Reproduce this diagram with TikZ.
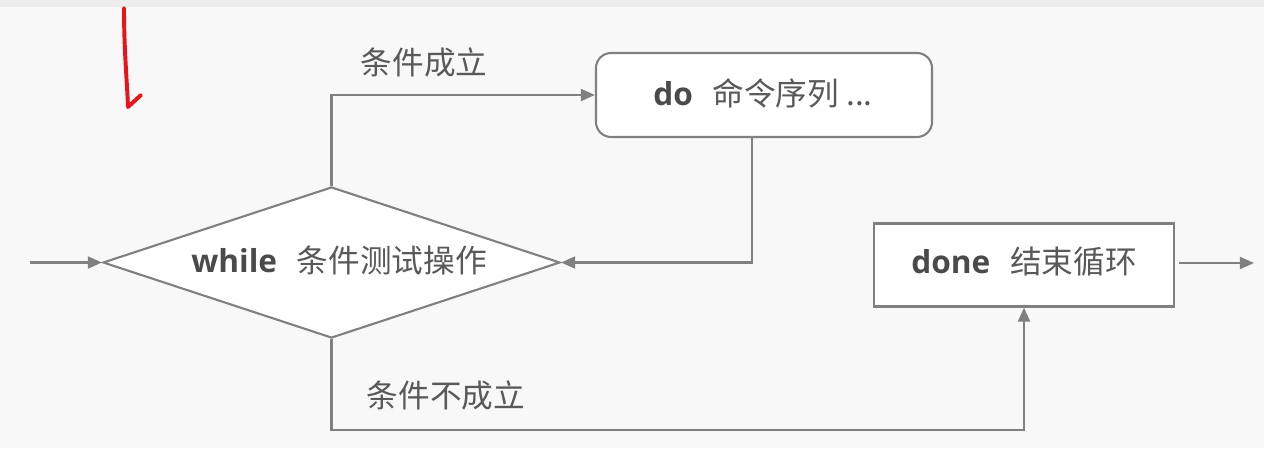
\documentclass[tikz,border=0pt]{standalone}
\usepackage{fontspec}
\setmainfont{Noto Sans CJK SC}
\newfontfamily\latb{Open Sans}
\usetikzlibrary{arrows.meta,shapes.geometric,calc}
\definecolor{bgcol}{HTML}{F8F8F8}
\definecolor{topcol}{HTML}{EDEDED}
\definecolor{linecol}{HTML}{808080}
\definecolor{txtcol}{HTML}{595959}
\definecolor{boldcol}{HTML}{4A4A4A}
\definecolor{pen}{HTML}{E8141A}
\tikzset{
  conn/.style={draw=linecol, line width=1.5pt, -{Triangle[length=10pt,width=8.5pt]}},
  boxstyle/.style={draw=linecol, line width=1.5pt, fill=white, inner sep=0pt},
  lbl/.style={text=txtcol, font=\fontsize{22.5}{26}\selectfont, inner sep=0pt},
}
\newcommand{\kwd}[1]{{\latb\bfseries\color{boldcol}#1}}
\begin{document}
\begin{tikzpicture}[x=0.025cm,y=-0.025cm]
\useasboundingbox (0,0) rectangle (1264,448);
\fill[bgcol] (0,0) rectangle (1264,448);
\fill[topcol] (0,0) rectangle (1264,7);
% red pen mark
\draw[pen, line width=2.8pt, line cap=round, line join=round]
  (124,8) .. controls (124,50) and (127,80) .. (128,107) -- (141,95);
% shapes
\node[boxstyle, diamond, minimum width=11.425cm, minimum height=3.775cm] (dia) at (331.5,262.5) {};
\node[lbl] (diatxt) at (339,260) {\kwd{while}\hspace{14pt}条件测试操作};
\node[boxstyle, rectangle, rounded corners=0.38cm, minimum width=8.4cm, minimum height=2.1cm] (dobox) at (764,95) {};
\node[lbl] (dotxt) at (763,93) {\kwd{do}\hspace{14pt}命令序列 ...};
\node[boxstyle, rectangle, minimum width=7.5cm, minimum height=2.075cm] (donebox) at (1024,265) {};
\node[lbl] (donetxt) at (1024,262) {\kwd{done}\hspace{14pt}结束循环};
% labels
\node[lbl] (yes) at (424,62) {条件成立};
\node[lbl] (no) at (446,395) {条件不成立};
% coordinates
\coordinate (in) at (30,262.5);
\coordinate (out) at (1250,263);
\coordinate (bot) at (0,430);
\coordinate (back) at (752,0);
% connectors
\draw[conn] (in) -- (dia.west);
\draw[conn] (dia.north) |- (dobox.west);
\draw[conn] (dobox.south -| back) |- (dia.east);
\draw[conn] (dia.south) -- (dia.south |- bot) -| (donebox.south);
\draw[conn] ([shift={(4,-2)}]donebox.east) -- ([shift={(4,-2)}]donebox.east -| out);
\end{tikzpicture}
\end{document}
